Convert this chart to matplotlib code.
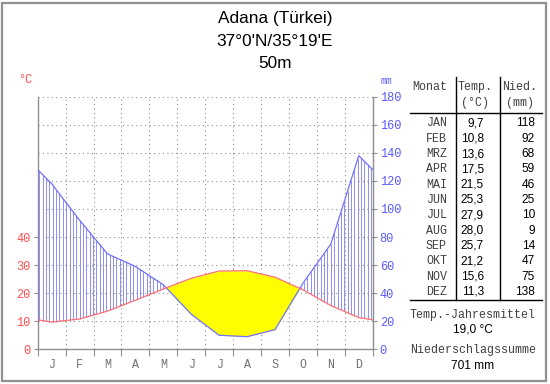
import numpy as np
import matplotlib.pyplot as plt
from matplotlib.lines import Line2D
from matplotlib.patches import Rectangle

# data
months = ['JAN', 'FEB', 'MRZ', 'APR', 'MAI', 'JUN', 'JUL', 'AUG', 'SEP', 'OKT', 'NOV', 'DEZ']
month_letters = ['J', 'F', 'M', 'A', 'M', 'J', 'J', 'A', 'S', 'O', 'N', 'D']
temp = [9.7, 10.8, 13.6, 17.5, 21.5, 25.3, 27.9, 28.0, 25.7, 21.2, 15.6, 11.3]
prec = [118, 92, 68, 59, 46, 25, 10, 9, 14, 47, 75, 138]
temp_labels = ['9,7', '10,8', '13,6', '17,5', '21,5', '25,3', '27,9', '28,0', '25,7', '21,2', '15,6', '11,3']
title_lines = ['Adana (Türkei)', "37°0'N/35°19'E", '50m']
temp_mean = '19,0 °C'
prec_sum = '701 mm'

W, H = 550, 384
RED = '#ff4d4d'
BLUE = '#5a5aff'
GRAY = '#8c8c8c'
MONO = 'Liberation Mono'
SANS = 'Liberation Sans'

fig = plt.figure(figsize=(W / 100, H / 100), dpi=100)


def fx(x):
    return x / W


def fy(y):
    return 1 - y / H


def ftext(x, y, s, **kw):
    fig.text(fx(x), fy(y), s, **kw)


def fline(x0, y0, x1, y1, color='black', lw=1.0):
    fig.add_artist(Line2D([fx(x0), fx(x1)], [fy(y0), fy(y1)], transform=fig.transFigure,
                          color=color, lw=lw))


# outer frame
fig.add_artist(Rectangle((fx(2), fy(381)), fx(546) - fx(2), fy(3) - fy(381), transform=fig.transFigure,
                         fill=False, ec='#909090', lw=1.6))

ax = fig.add_axes([fx(37.7), fy(349.3), fx(372.7) - fx(37.7), fy(96.7) - fy(349.3)])
ax.set_xlim(0, 12)
ax.set_ylim(0, 180)

# curves, extended cyclically to the axis edges
xm = np.concatenate([[0], np.arange(12) + 0.5, [12]])
t_edge = (temp[0] + temp[-1]) / 2
p_edge = (prec[0] + prec[-1]) / 2
tm = 2 * np.concatenate([[t_edge], temp, [t_edge]])
pm = np.concatenate([[p_edge], prec, [p_edge]])

xs = np.linspace(0, 12, 2401)
ts = np.interp(xs, xm, tm)
ps = np.interp(xs, xm, pm)

# arid period
ax.fill_between(xs, ps, ts, where=ps < ts, color='#ffff00', interpolate=True, zorder=2, lw=0)

# humid period hatch
xh = np.arange(0.06, 12, 0.12)
th = np.interp(xh, xm, tm)
ph = np.interp(xh, xm, pm)
wet = ph > th
ax.vlines(xh[wet], th[wet], ph[wet], color='#8c8cff', lw=0.7, zorder=3)

ax.plot(xm, pm, color='#7070ff', lw=0.9, zorder=4)
ax.plot(xm, tm, color='#ff7070', lw=0.9, zorder=4)

# grid
for gy in range(20, 181, 20):
    ax.axhline(gy, color=GRAY, lw=0.8, ls=(0, (1, 3)), zorder=1)
for gx in range(1, 12):
    ax.axvline(gx, color=GRAY, lw=0.8, ls=(0, (1, 3)), zorder=1)

for side in ['top']:
    ax.spines[side].set_visible(False)
for side in ['left', 'right', 'bottom']:
    ax.spines[side].set_color('#909090')
    ax.spines[side].set_linewidth(1.0)

ax.set_xticks(range(13))
ax.set_xticklabels([])
ax.set_xticks(np.arange(12) + 0.5, minor=True)
ax.set_xticklabels(month_letters, minor=True, fontfamily=MONO, fontsize=8.4, color='#707070')
ax.tick_params(axis='x', which='major', length=5, color='#909090')
ax.tick_params(axis='x', which='minor', length=0, pad=7)

ax.set_yticks(range(0, 81, 20))
ax.set_yticklabels([str(v // 2) for v in range(0, 81, 20)], fontfamily=MONO, fontsize=8.6, color=RED)
ax.tick_params(axis='y', length=3, color='#909090', pad=2)

ax2 = ax.twinx()
ax2.set_ylim(0, 180)
ax2.set_yticks(range(0, 181, 20))
ax2.set_yticklabels([str(v) for v in range(0, 181, 20)], fontfamily=MONO, fontsize=8.6, color=BLUE)
ax2.tick_params(axis='y', length=3, color='#909090', pad=2)
for side in ['top', 'left', 'bottom']:
    ax2.spines[side].set_visible(False)
ax2.spines['right'].set_color('#909090')

# titles and units
for i, s in enumerate(title_lines):
    ftext(275, 19 + 22 * i, s, fontfamily=SANS, fontsize=12.4, ha='center', va='center')
ftext(25, 80, '°C', fontfamily=MONO, fontsize=8.6, color=RED, ha='center', va='center')
ftext(386, 81, 'mm', fontfamily=MONO, fontsize=7, color=BLUE, ha='center', va='center')

# table
ftext(447, 87, 'Monat', fontfamily=MONO, fontsize=8.4, color='#404040', ha='right', va='center')
ftext(475, 87, 'Temp.', fontfamily=MONO, fontsize=8.4, color='#404040', ha='center', va='center')
ftext(475, 103, '(°C)', fontfamily=MONO, fontsize=8.4, color='#404040', ha='center', va='center')
ftext(520, 87, 'Nied.', fontfamily=MONO, fontsize=8.4, color='#404040', ha='center', va='center')
ftext(520, 103, '(mm)', fontfamily=MONO, fontsize=8.4, color='#404040', ha='center', va='center')
fline(456, 77, 456, 300)
fline(500, 77, 500, 300)
fline(410, 113, 542, 113)
fline(410, 300, 542, 300)

for i in range(12):
    y = 123.5 + 15.3 * i
    ftext(447, y, months[i], fontfamily=MONO, fontsize=8.4, color='#404040', ha='right', va='center')
    ftext(484, y, temp_labels[i], fontfamily=SANS, fontsize=8.6, color='black', ha='right', va='center')
    ftext(535, y, str(prec[i]), fontfamily=SANS, fontsize=8.6, color='black', ha='right', va='center')

ftext(473, 315, 'Temp.-Jahresmittel', fontfamily=MONO, fontsize=8.4, color='#404040', ha='center', va='center')
ftext(473, 330, temp_mean, fontfamily=SANS, fontsize=8.6, color='black', ha='center', va='center')
ftext(473, 350, 'Niederschlagssumme', fontfamily=MONO, fontsize=8.4, color='#404040', ha='center', va='center')
ftext(473, 366, prec_sum, fontfamily=SANS, fontsize=8.6, color='black', ha='center', va='center')

fig.savefig('out.png', dpi=100, facecolor='white')
